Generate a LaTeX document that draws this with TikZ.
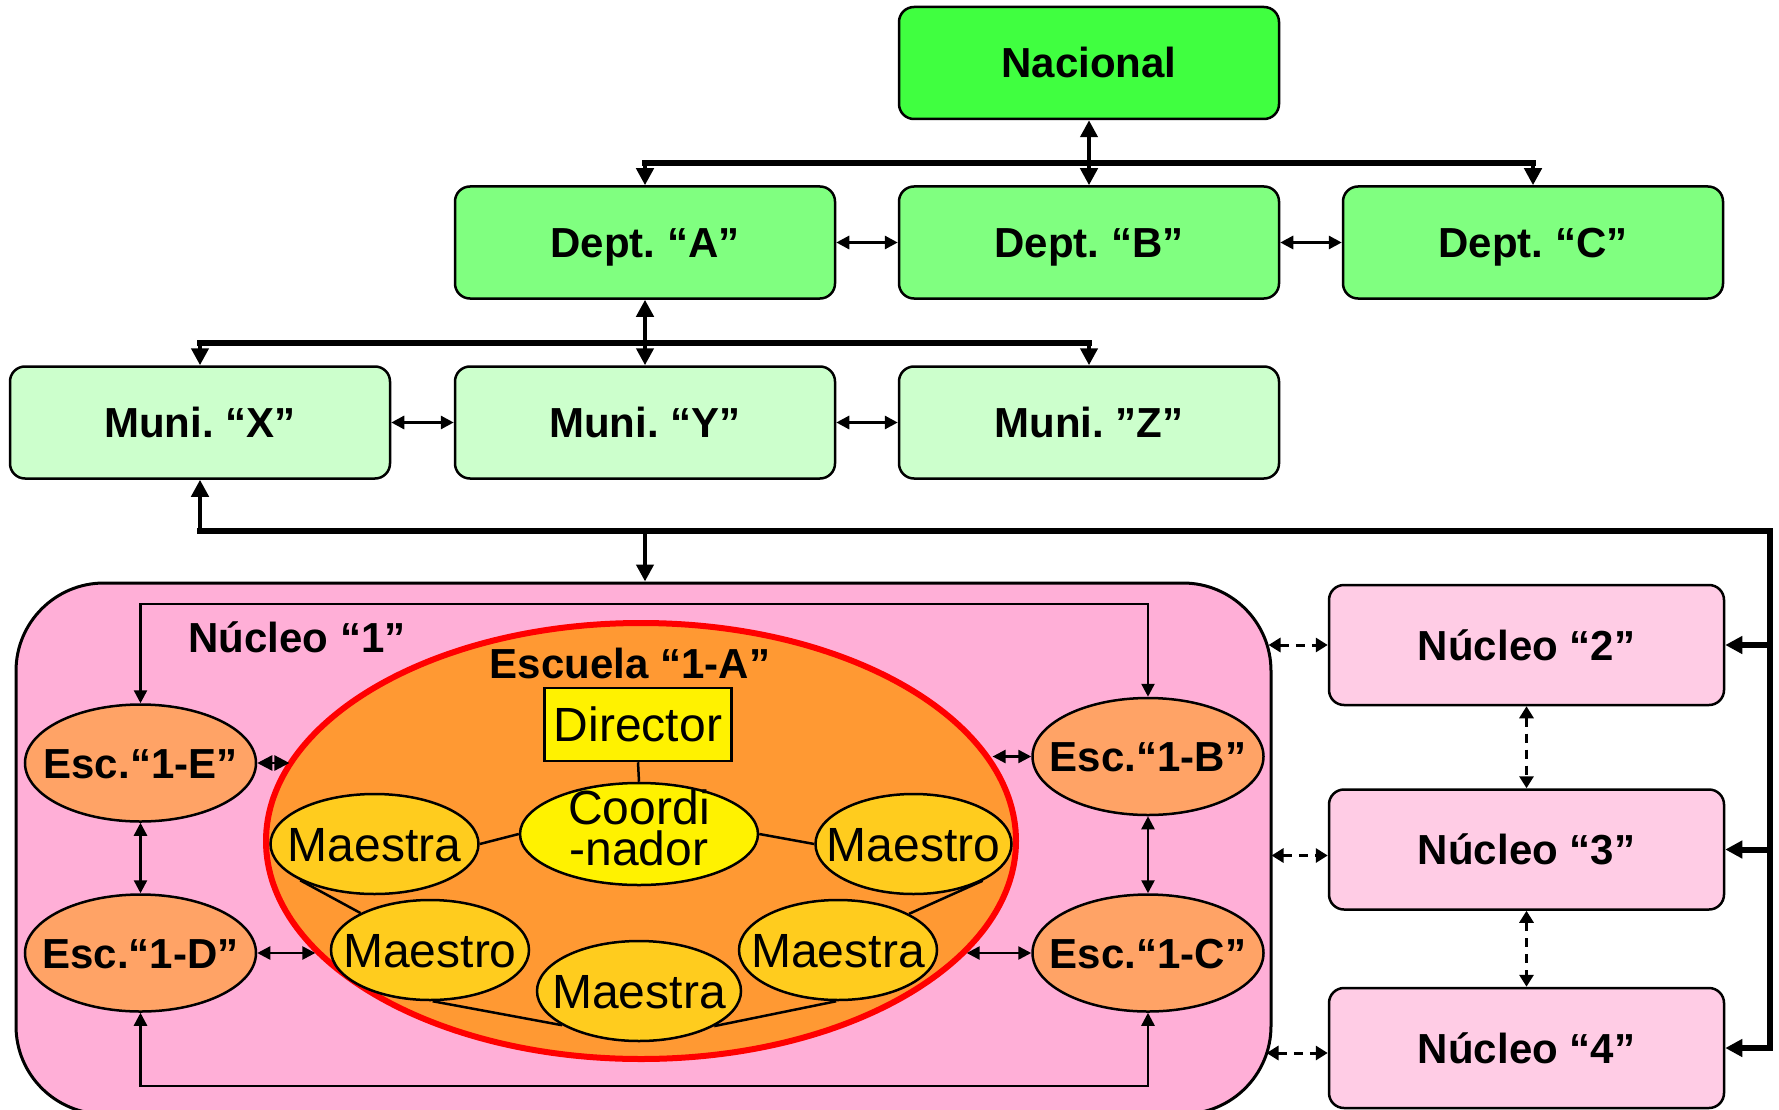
\documentclass[tikz,border=0pt]{standalone}
\usepackage{fontspec}
\setmainfont{Liberation Sans}
\usetikzlibrary{arrows.meta,shapes.geometric,calc}
\definecolor{nacgreen}{RGB}{64,255,64}
\definecolor{deptgreen}{RGB}{128,255,128}
\definecolor{munigreen}{RGB}{204,255,204}
\definecolor{nucpink}{RGB}{255,175,215}
\definecolor{nucpinklight}{RGB}{255,204,229}
\definecolor{escorange}{RGB}{255,163,102}
\definecolor{schoolorange}{RGB}{255,153,51}
\definecolor{goldfill}{RGB}{255,204,30}
\tikzset{
  BigTri/.tip={Triangle[length=17pt,width=17pt]},
  SmlTri/.tip={Triangle[length=13pt,width=13pt]},
  DiaTri/.tip={Triangle[length=15pt,width=15pt]},
  DshTri/.tip={Triangle[length=12pt,width=14pt]},
}
\frenchspacing
\begin{document}
\frenchspacing
\begin{tikzpicture}[x=1pt,y=-1pt,
  boldfont/.style={font=\fontsize{42}{48}\selectfont\bfseries\frenchspacing},
  regfont/.style={font=\fontsize{48}{48}\selectfont},
  orgbox/.style={draw, line width=2.5pt, rounded corners=15pt, minimum width=380pt, minimum height=112pt, inner sep=0pt, boldfont, text height=30pt, text depth=0pt},
  nucbox/.style={orgbox, fill=nucpinklight, minimum width=395pt, minimum height=120pt},
  escell/.style={ellipse, draw, line width=2.5pt, fill=escorange, minimum width=231pt, minimum height=117pt, inner sep=0pt, boldfont, text height=30pt, text depth=0pt},
  staffell/.style={ellipse, draw, line width=2.5pt, fill=goldfill, minimum height=100pt, inner sep=0pt, regfont, text height=34pt, text depth=0pt},
  busline/.style={line width=6pt, line cap=rect},
  dropline/.style={line width=4.5pt},
  midline/.style={line width=3pt},
  thinline/.style={line width=2.5pt},
  dashline/.style={line width=3pt, dash pattern=on 9pt off 7pt, DshTri-DshTri},
]
\useasboundingbox (0,0) rectangle (1779,1110);
\clip (0,0) rectangle (1779,1110);

% top levels
\node[orgbox, fill=nacgreen] (nac) at (1089,63) {Nacional};
\node[orgbox, fill=deptgreen] (deptA) at (645,242.5) {Dept. “A”};
\node[orgbox, fill=deptgreen] (deptB) at (1089,242.5) {Dept. “B”};
\node[orgbox, fill=deptgreen] (deptC) at (1533,242.5) {Dept. “C”};
\node[orgbox, fill=munigreen] (muniX) at (200,422.5) {Muni. “X”};
\node[orgbox, fill=munigreen] (muniY) at (645,422.5) {Muni. “Y”};
\node[orgbox, fill=munigreen] (muniZ) at (1089,422.5) {Muni. ”Z”};

\coordinate (b1) at (1089,163.5);
\coordinate (b2) at (645,343);
\coordinate (b3) at (645,531);
\coordinate (rc) at (1770,531);

% nacional -> depts
\draw[busline] (deptA.north |- b1) -- (deptC.north |- b1);
\draw[dropline, BigTri-BigTri] (nac.south) -- (deptB.north);
\draw[dropline, -BigTri] (deptA.north |- b1) -- (deptA.north);
\draw[dropline, -BigTri] (deptC.north |- b1) -- (deptC.north);
\draw[midline, SmlTri-SmlTri] (deptA.east) -- (deptB.west);
\draw[midline, SmlTri-SmlTri] (deptB.east) -- (deptC.west);

% dept A -> munis
\draw[busline] (muniX.north |- b2) -- (muniZ.north |- b2);
\draw[dropline, BigTri-BigTri] (deptA.south) -- (muniY.north);
\draw[dropline, -BigTri] (muniX.north |- b2) -- (muniX.north);
\draw[dropline, -BigTri] (muniZ.north |- b2) -- (muniZ.north);
\draw[midline, SmlTri-SmlTri] (muniX.east) -- (muniY.west);
\draw[midline, SmlTri-SmlTri] (muniY.east) -- (muniZ.west);

% nucleos
\node[draw, line width=3pt, fill=nucpink, rounded corners=88pt, minimum width=1255pt, minimum height=531pt, inner sep=0pt] (nuc1) at (643.5,848.5) {};
\node[nucbox] (n2) at (1526.5,645) {Núcleo “2”};
\node[nucbox] (n3) at (1526.5,849.5) {Núcleo “3”};
\node[nucbox] (n4) at (1526.5,1048) {Núcleo “4”};

% bottom bus
\draw[busline] (muniX.south |- b3) -- (rc) -- (rc |- n4.east);
\draw[dropline, -BigTri] (muniX.south |- b3) -- (muniX.south);
\draw[dropline, -BigTri] (b3) -- (b3 |- nuc1.north);
\draw[busline, line cap=butt, -BigTri] (rc |- n2.east) -- (n2.east);
\draw[busline, line cap=butt, -BigTri] (rc |- n3.east) -- (n3.east);
\draw[busline, line cap=butt, -BigTri] (rc |- n4.east) -- (n4.east);

% dashed links
\draw[dashline] ([xshift=-4pt]n2.west -| nuc1.east) -- (n2.west);
\draw[dashline] ([xshift=-1pt,yshift=-6pt]n3.west -| nuc1.east) -- ([yshift=-6pt]n3.west);
\draw[dashline] ([xshift=-6pt,yshift=-5pt]n4.west -| nuc1.east) -- ([yshift=-5pt]n4.west);
\draw[dashline] (n2.south) -- (n3.north);
\draw[dashline] (n3.south) -- (n4.north);

% inside nucleo 1
\node[boldfont, anchor=base] (t1) at (297,652) {Núcleo “1”};
\node[ellipse, draw=red, line width=6pt, fill=schoolorange, minimum width=750pt, minimum height=436pt, inner sep=0pt] (esc) at (641,841) {};
\node[boldfont, anchor=base] (t2) at (630,678) {Escuela “1-A”};

\node[escell] (e1e) at (140.5,763) {\makebox[0pt]{Esc.“1-E”}};
\node[escell] (e1d) at (140.5,953) {\makebox[0pt]{Esc.“1-D”}};
\node[escell] (e1b) at (1148,756.5) {\makebox[0pt]{Esc.“1-B”}};
\node[escell] (e1c) at (1148,953) {\makebox[0pt]{Esc.“1-C”}};

\coordinate (tl) at (140,604);
\coordinate (bl) at (140,1086);
\draw[thinline, SmlTri-SmlTri] (e1e.north) -- (e1e.north |- tl) -| (e1b.north);
\draw[thinline, SmlTri-SmlTri] (e1d.south) -- (e1d.south |- bl) -| (e1c.south);
\draw[thinline, SmlTri-SmlTri] (e1e.south) -- (e1d.north);
\draw[thinline, SmlTri-SmlTri] (e1b.south) -- (e1c.north);

\draw[thinline, DiaTri-DiaTri] (e1e.east) -- (e1e.east -| esc.167.6);
\draw[thinline, SmlTri-SmlTri] (e1d.east) -- (e1d.east -| esc.199);
\draw[thinline, SmlTri-SmlTri] (e1b.west) -- (e1b.west -| esc.13.6);
\draw[thinline, SmlTri-SmlTri] (e1c.west) -- (e1c.west -| esc.341);

% school staff
\node[draw, line width=2.5pt, fill=yellow, minimum width=187pt, minimum height=73pt, inner sep=0pt, regfont, text height=34pt, text depth=0pt] (dir) at (638,724.5) {Director};
\node[ellipse, draw, line width=2.5pt, fill=yellow, minimum width=238pt, minimum height=102pt, inner sep=0pt, align=center, font=\fontsize{48}{41}\selectfont, text height=64pt, text depth=2pt] (co) at (639,834) {Coordi\\-nador};
\node[staffell, minimum width=208pt] (ml) at (374.5,844) {\makebox[0pt]{Maestra}};
\node[staffell, minimum width=196pt] (mr) at (913.5,844) {\makebox[0pt]{Maestro}};
\node[staffell, minimum width=198pt] (mll) at (430,950) {\makebox[0pt]{Maestro}};
\node[staffell, minimum width=198pt] (mlr) at (838,950) {\makebox[0pt]{Maestra}};
\node[staffell, minimum width=204pt] (mb) at (639,991) {\makebox[0pt]{Maestra}};

\draw[thinline] (dir.south) -- (co.north);
\draw[thinline] (ml.east) -- (co.west);
\draw[thinline] (co.east) -- (mr.west);
\draw[thinline] (ml.206) -- (mll.152);
\draw[thinline] (mr.332) -- (mlr.27);
\draw[thinline] (mll.273) -- (mb.204);
\draw[thinline] (mb.335) -- (mlr.268);
\end{tikzpicture}
\end{document}
